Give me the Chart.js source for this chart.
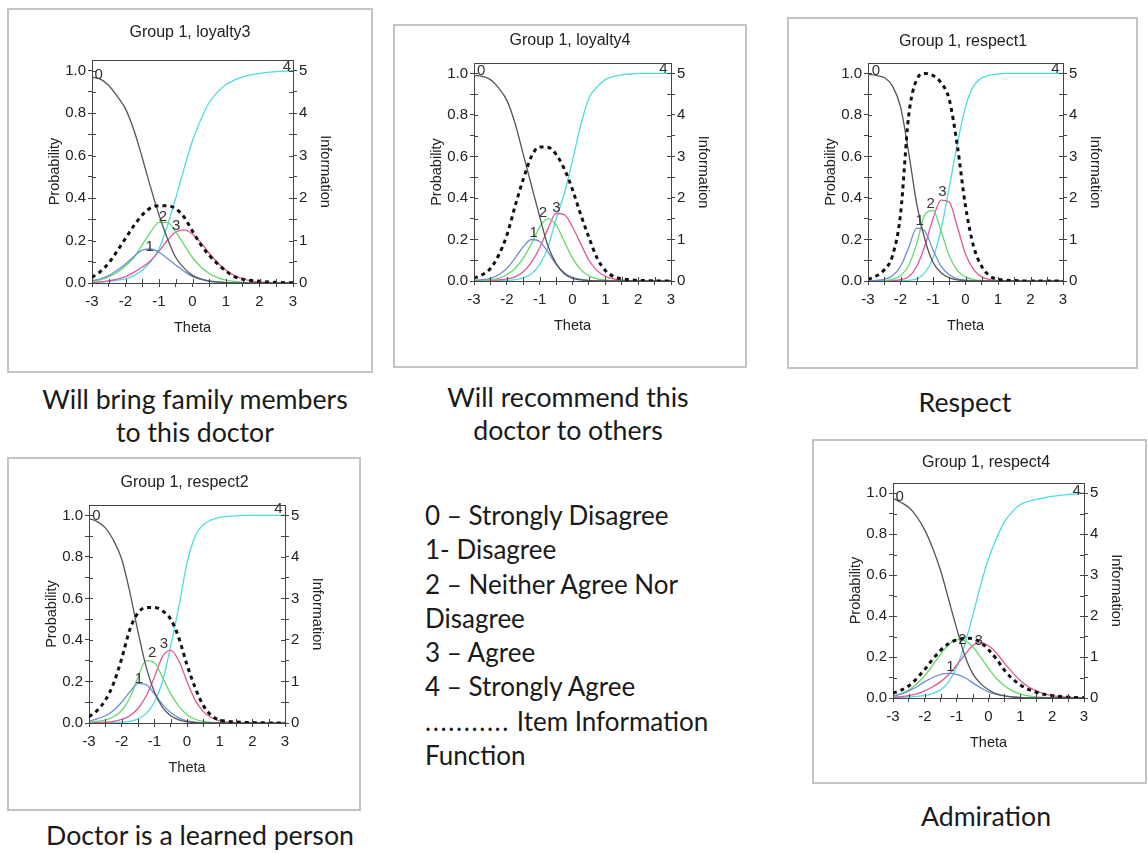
<!DOCTYPE html>
<html>
<head>
<meta charset="utf-8">
<script src="https://cdn.jsdelivr.net/npm/chart.js@4"></script>
<style>
  body { margin: 0; background: #fff; }
  #page { position: relative; width: 1148px; height: 853px; overflow: hidden; font-family: Lato, 'Open Sans', sans-serif; color: #1a1a1a; }
  .box { position: absolute; box-sizing: border-box; border: 2px solid #c4c4c4; background: #fff; }
  .box canvas { position: absolute; left: 0; top: 0; }
  .cap { position: absolute; text-align: center; font-size: 26.7px; line-height: 33px; white-space: nowrap; }
  #key { position: absolute; left: 425px; top: 498px; font-size: 26px; line-height: 34.3px; white-space: nowrap; }
  .dots { letter-spacing: 1.6px; }
</style>
</head>
<body>
<div id="page">
  <div class="cap" style="left:20px; top:383px; width:350px;">Will bring family members<br>to this doctor</div>
  <div class="cap" style="left:393px; top:381px; width:350px;">Will recommend this<br>doctor to others</div>
  <div class="cap" style="left:865px; top:386px; width:200px;">Respect</div>
  <div class="cap" style="left:20px; top:819px; width:360px;">Doctor is a learned person</div>
  <div class="cap" style="left:886px; top:800px; width:200px;">Admiration</div>
  <div id="key">
    0 – Strongly Disagree<br>
    1- Disagree<br>
    2 – Neither Agree Nor<br>
    Disagree<br>
    3 – Agree<br>
    4 – Strongly Agree<br>
    <span class="dots">...........</span> Item Information<br>
    Function
  </div>
</div>
<script>
// theta grid shared by all panels
const theta = [-3, -2.75, -2.5, -2.25, -2, -1.75, -1.5, -1.25, -1, -0.75, -0.5, -0.25, 0,
               0.25, 0.5, 0.75, 1, 1.25, 1.5, 1.75, 2, 2.25, 2.5, 2.75, 3];

// loyalty3
const loyalty3Cat0 = [0.97, 0.96, 0.93, 0.88, 0.82, 0.72, 0.59, 0.45, 0.32, 0.21, 0.12, 0.07, 0.036, 0.02, 0.01, 0.005, 0.002, 0, 0, 0, 0, 0, 0, 0, 0];
const loyalty3Cat1 = [0.01, 0.02, 0.035, 0.06, 0.09, 0.125, 0.155, 0.16, 0.145, 0.115, 0.085, 0.055, 0.03, 0.017, 0.008, 0.004, 0.002, 0, 0, 0, 0, 0, 0, 0, 0];
const loyalty3Cat2 = [0.01, 0.015, 0.03, 0.05, 0.08, 0.12, 0.18, 0.24, 0.285, 0.285, 0.24, 0.18, 0.12, 0.075, 0.045, 0.025, 0.013, 0.007, 0.003, 0, 0, 0, 0, 0, 0];
const loyalty3Cat3 = [0.003, 0.005, 0.01, 0.018, 0.03, 0.05, 0.075, 0.105, 0.15, 0.2, 0.24, 0.25, 0.23, 0.19, 0.14, 0.095, 0.06, 0.035, 0.02, 0.01, 0.005, 0.002, 0, 0, 0];
const loyalty3Cat4 = [0.002, 0.004, 0.008, 0.013, 0.02, 0.035, 0.06, 0.1, 0.16, 0.27, 0.4, 0.54, 0.67, 0.77, 0.85, 0.9, 0.935, 0.955, 0.97, 0.98, 0.987, 0.992, 0.995, 0.998, 1];
const loyalty3Info = [0.13, 0.27, 0.47, 0.75, 1.05, 1.35, 1.6, 1.77, 1.82, 1.82, 1.75, 1.55, 1.22, 0.9, 0.65, 0.45, 0.28, 0.15, 0.09, 0.06, 0.04, 0.025, 0.015, 0.008, 0.003];

// loyalty4
const loyalty4Cat0 = [0.99, 0.985, 0.97, 0.93, 0.87, 0.76, 0.61, 0.46, 0.31, 0.17, 0.085, 0.035, 0.013, 0.005, 0.002, 0, 0, 0, 0, 0, 0, 0, 0, 0, 0];
const loyalty4Cat1 = [0.003, 0.006, 0.013, 0.03, 0.06, 0.11, 0.165, 0.2, 0.19, 0.14, 0.08, 0.04, 0.018, 0.008, 0.003, 0.001, 0, 0, 0, 0, 0, 0, 0, 0, 0];
const loyalty4Cat2 = [0.001, 0.003, 0.006, 0.013, 0.03, 0.06, 0.11, 0.18, 0.26, 0.3, 0.27, 0.19, 0.11, 0.055, 0.025, 0.01, 0.004, 0.001, 0, 0, 0, 0, 0, 0, 0];
const loyalty4Cat3 = [0, 0.001, 0.002, 0.005, 0.01, 0.02, 0.045, 0.09, 0.16, 0.25, 0.325, 0.32, 0.26, 0.18, 0.1, 0.05, 0.022, 0.01, 0.004, 0.001, 0, 0, 0, 0, 0];
const loyalty4Cat4 = [0, 0, 0.001, 0.002, 0.003, 0.007, 0.015, 0.035, 0.08, 0.16, 0.3, 0.42, 0.58, 0.75, 0.88, 0.935, 0.97, 0.985, 0.993, 0.997, 1, 1, 1, 1, 1];
const loyalty4Info = [0.07, 0.15, 0.3, 0.62, 1.1, 1.8, 2.45, 3.0, 3.23, 3.22, 3.05, 2.7, 2.2, 1.6, 1.05, 0.55, 0.25, 0.11, 0.05, 0.03, 0.015, 0.008, 0.004, 0.002, 0];

// respect1
const respect1Cat0 = [0.995, 0.99, 0.98, 0.94, 0.84, 0.62, 0.37, 0.2, 0.09, 0.04, 0.015, 0.005, 0.002, 0, 0, 0, 0, 0, 0, 0, 0, 0, 0, 0, 0];
const respect1Cat1 = [0.001, 0.003, 0.008, 0.025, 0.07, 0.16, 0.255, 0.24, 0.15, 0.07, 0.03, 0.01, 0.004, 0.001, 0, 0, 0, 0, 0, 0, 0, 0, 0, 0, 0];
const respect1Cat2 = [0, 0.001, 0.002, 0.008, 0.025, 0.075, 0.18, 0.32, 0.34, 0.24, 0.12, 0.05, 0.02, 0.007, 0.002, 0, 0, 0, 0, 0, 0, 0, 0, 0, 0];
const respect1Cat3 = [0, 0, 0.001, 0.002, 0.006, 0.02, 0.07, 0.17, 0.3, 0.39, 0.38, 0.26, 0.13, 0.055, 0.02, 0.007, 0.002, 0, 0, 0, 0, 0, 0, 0, 0];
const respect1Cat4 = [0, 0, 0, 0, 0.001, 0.003, 0.01, 0.04, 0.11, 0.25, 0.45, 0.66, 0.84, 0.94, 0.978, 0.992, 0.997, 1, 1, 1, 1, 1, 1, 1, 1];
const respect1Info = [0.04, 0.12, 0.27, 0.6, 1.6, 3.97, 4.85, 5.0, 4.95, 4.77, 4.37, 3.25, 1.8, 0.83, 0.35, 0.12, 0.04, 0.02, 0.01, 0.005, 0, 0, 0, 0, 0];

// respect2
const respect2Cat0 = [0.985, 0.97, 0.94, 0.88, 0.79, 0.63, 0.44, 0.27, 0.15, 0.075, 0.035, 0.015, 0.006, 0.002, 0, 0, 0, 0, 0, 0, 0, 0, 0, 0, 0];
const respect2Cat1 = [0.01, 0.02, 0.035, 0.06, 0.1, 0.15, 0.19, 0.185, 0.14, 0.09, 0.05, 0.025, 0.01, 0.004, 0.001, 0, 0, 0, 0, 0, 0, 0, 0, 0, 0];
const respect2Cat2 = [0.004, 0.008, 0.015, 0.03, 0.06, 0.12, 0.22, 0.3, 0.29, 0.22, 0.14, 0.08, 0.04, 0.018, 0.008, 0.003, 0.001, 0, 0, 0, 0, 0, 0, 0, 0];
const respect2Cat3 = [0.001, 0.002, 0.004, 0.008, 0.017, 0.035, 0.07, 0.13, 0.22, 0.32, 0.35, 0.3, 0.2, 0.11, 0.055, 0.025, 0.01, 0.004, 0.002, 0, 0, 0, 0, 0, 0];
const respect2Cat4 = [0, 0.0005, 0.001, 0.002, 0.004, 0.008, 0.02, 0.045, 0.1, 0.2, 0.37, 0.56, 0.77, 0.9, 0.955, 0.978, 0.99, 0.995, 0.998, 1, 1, 1, 1, 1, 1];
const respect2Info = [0.15, 0.3, 0.55, 0.95, 1.55, 2.25, 2.65, 2.78, 2.78, 2.7, 2.5, 2.05, 1.4, 0.85, 0.42, 0.18, 0.07, 0.04, 0.025, 0.015, 0.01, 0.005, 0.003, 0.001, 0];

// respect4
const respect4Cat0 = [0.975, 0.955, 0.93, 0.885, 0.82, 0.73, 0.62, 0.48, 0.34, 0.21, 0.12, 0.07, 0.04, 0.02, 0.01, 0.005, 0.002, 0, 0, 0, 0, 0, 0, 0, 0];
const respect4Cat1 = [0.01, 0.02, 0.035, 0.055, 0.08, 0.1, 0.115, 0.12, 0.115, 0.1, 0.075, 0.05, 0.03, 0.018, 0.01, 0.005, 0.003, 0.001, 0, 0, 0, 0, 0, 0, 0];
const respect4Cat2 = [0.01, 0.02, 0.04, 0.07, 0.11, 0.16, 0.215, 0.26, 0.285, 0.28, 0.25, 0.2, 0.145, 0.095, 0.06, 0.035, 0.02, 0.01, 0.005, 0.003, 0, 0, 0, 0, 0];
const respect4Cat3 = [0.004, 0.007, 0.012, 0.02, 0.035, 0.055, 0.08, 0.115, 0.16, 0.21, 0.255, 0.27, 0.255, 0.22, 0.17, 0.125, 0.085, 0.055, 0.035, 0.02, 0.012, 0.007, 0.004, 0.002, 0.001];
const respect4Cat4 = [0.002, 0.003, 0.005, 0.008, 0.012, 0.022, 0.04, 0.08, 0.15, 0.26, 0.4, 0.55, 0.68, 0.78, 0.86, 0.91, 0.945, 0.96, 0.97, 0.978, 0.985, 0.99, 0.993, 0.997, 1];
const respect4Info = [0.12, 0.19, 0.3, 0.48, 0.7, 0.95, 1.17, 1.33, 1.42, 1.46, 1.45, 1.36, 1.18, 0.95, 0.68, 0.47, 0.32, 0.21, 0.14, 0.09, 0.06, 0.035, 0.02, 0.01, 0.005];

// category labels sitting on the curves: [text, theta, probability]
const loyalty3Labels = [['0', -2.8, 0.98], ['1', -1.28, 0.17], ['2', -0.88, 0.31], ['3', -0.49, 0.27], ['4', 2.82, 1.02]];
const loyalty4Labels = [['0', -2.78, 1.01], ['1', -1.18, 0.23], ['2', -0.9, 0.33], ['3', -0.49, 0.35], ['4', 2.77, 1.02]];
const respect1Labels = [['0', -2.76, 1.01], ['1', -1.41, 0.29], ['2', -1.07, 0.37], ['3', -0.71, 0.43], ['4', 2.77, 1.02]];
const respect2Labels = [['0', -2.77, 1.0], ['1', -1.47, 0.215], ['2', -1.07, 0.34], ['3', -0.71, 0.38], ['4', 2.8, 1.03]];
const respect4Labels = [['0', -2.79, 0.98], ['1', -1.2, 0.15], ['2', -0.82, 0.285], ['3', -0.31, 0.28], ['4', 2.77, 1.01]];

const catColors = ['#555555', '#6a8fd6', '#66d96a', '#e0589a', '#4fdcdc'];
const FONT = "'Liberation Sans', Arial, sans-serif";
const AXIS = '#444';

// box = outer frame on the page, plot = where the axes frame should land, title = title centre
const panels = [
  { name: 'loyalty3', box: [7, 8, 366, 365], plot: [92, 60, 293, 283], title: 33, cats: [loyalty3Cat0, loyalty3Cat1, loyalty3Cat2, loyalty3Cat3, loyalty3Cat4], info: loyalty3Info, labels: loyalty3Labels },
  { name: 'loyalty4', box: [393, 24, 354, 344], plot: [474, 63, 671, 281], title: 41, cats: [loyalty4Cat0, loyalty4Cat1, loyalty4Cat2, loyalty4Cat3, loyalty4Cat4], info: loyalty4Info, labels: loyalty4Labels },
  { name: 'respect1', box: [787, 17, 351, 352], plot: [868, 63, 1063, 281], title: 42, cats: [respect1Cat0, respect1Cat1, respect1Cat2, respect1Cat3, respect1Cat4], info: respect1Info, labels: respect1Labels },
  { name: 'respect2', box: [7, 457, 354, 354], plot: [89, 505, 285, 723], title: 483, cats: [respect2Cat0, respect2Cat1, respect2Cat2, respect2Cat3, respect2Cat4], info: respect2Info, labels: respect2Labels },
  { name: 'respect4', box: [812, 439, 335, 345], plot: [893, 483, 1084, 698], title: 463, cats: [respect4Cat0, respect4Cat1, respect4Cat2, respect4Cat3, respect4Cat4], info: respect4Info, labels: respect4Labels }
];

const LEFT_W = 46, RIGHT_W = 41, BOTTOM_H = 54, TITLE_LH = 19.2;

// curve numbers plus the short inner half of each tick mark (the axes ticks cross the frame)
const curveLabels = {
    id: 'curveLabels',
    afterDatasetsDraw(chart, args, opts) {
        const ctx = chart.ctx;
        const { x: xs, y: ys, y2 } = chart.scales;
        const area = chart.chartArea;
        ctx.save();
        ctx.strokeStyle = AXIS;
        ctx.lineWidth = 1;
        ctx.beginPath();
        xs.ticks.forEach(t => {
            const px = Math.round(xs.getPixelForValue(t.value)) + 0.5;
            ctx.moveTo(px, area.bottom);
            ctx.lineTo(px, area.bottom - 4);
        });
        ys.ticks.forEach(t => {
            const py = Math.round(ys.getPixelForValue(t.value)) + 0.5;
            ctx.moveTo(area.left, py);
            ctx.lineTo(area.left + 4, py);
        });
        y2.ticks.forEach(t => {
            const py = Math.round(y2.getPixelForValue(t.value)) + 0.5;
            ctx.moveTo(area.right, py);
            ctx.lineTo(area.right - 4, py);
        });
        ctx.stroke();

        ctx.font = '15px ' + FONT;
        ctx.fillStyle = '#333';
        ctx.textAlign = 'center';
        ctx.textBaseline = 'middle';
        opts.labels.forEach(([t, vx, vy]) => {
            ctx.fillText(t, xs.getPixelForValue(vx), ys.getPixelForValue(vy));
        });
        ctx.restore();
    }
};

const toPoints = arr => theta.map((x, i) => ({ x, y: arr[i] }));

panels.forEach(p => {
    const [bx, by, bw, bh] = p.box;
    const [pl, pt, pr, pb] = p.plot;
    const div = document.createElement('div');
    div.className = 'box';
    Object.assign(div.style, { left: bx + 'px', top: by + 'px', width: bw + 'px', height: bh + 'px' });
    const canvas = document.createElement('canvas');
    canvas.width = bw - 4;
    canvas.height = bh - 4;
    canvas.style.width = (bw - 4) + 'px';
    canvas.style.height = (bh - 4) + 'px';
    div.appendChild(canvas);
    document.getElementById('page').appendChild(div);

    const innerL = bx + 2, innerT = by + 2, innerR = bx + bw - 2, innerB = by + bh - 2;
    const padTop = p.title - innerT - TITLE_LH / 2;
    const padding = {
        left: pl - innerL - LEFT_W,
        right: innerR - pr - RIGHT_W,
        top: padTop,
        bottom: innerB - pb - BOTTOM_H
    };
    const titleGap = pt - innerT - padTop - TITLE_LH;

    const datasets = [{
        data: toPoints(p.info),
        yAxisID: 'y2',
        borderColor: '#111',
        borderWidth: 3,
        borderDash: [4, 4]
    }];
    p.cats.forEach((arr, i) => {
        datasets.push({ data: toPoints(arr), yAxisID: 'y', borderColor: catColors[i], borderWidth: 1.3 });
    });
    datasets.forEach(d => {
        d.xAxisID = 'x';
        d.pointRadius = 0;
        d.fill = false;
        d.cubicInterpolationMode = 'monotone';
    });

    const tickFont = { family: FONT, size: 15 };
    const titleFont = { family: FONT, size: 14.5 };

    new Chart(canvas, {
        type: 'line',
        data: { datasets },
        plugins: [curveLabels],
        options: {
            responsive: false,
            animation: false,
            layout: { padding },
            plugins: {
                legend: { display: false },
                tooltip: { enabled: false },
                title: {
                    display: true,
                    text: 'Group 1, ' + p.name,
                    color: '#222',
                    font: { family: FONT, size: 16, weight: 'normal', lineHeight: 1.2 },
                    padding: { top: 0, bottom: titleGap }
                },
                curveLabels: { labels: p.labels }
            },
            scales: {
                x: {
                    type: 'linear', position: 'bottom', min: -3, max: 3,
                    ticks: {
                        stepSize: 0.5, autoSkip: false, maxRotation: 0, padding: 6,
                        color: '#222', font: tickFont,
                        callback: v => Number.isInteger(v) ? String(v) : ''
                    },
                    grid: { drawOnChartArea: false, tickLength: 4, color: AXIS },
                    border: { color: AXIS, width: 1 },
                    title: { display: true, text: 'Theta', color: '#222', font: titleFont, padding: 0 },
                    afterFit: s => { s.height = BOTTOM_H; }
                },
                xTop: {
                    type: 'linear', position: 'top', min: -3, max: 3,
                    ticks: { display: false },
                    grid: { display: false, drawTicks: false },
                    border: { display: true, color: AXIS, width: 1 },
                    afterFit: s => { s.height = 0; }
                },
                y: {
                    type: 'linear', position: 'left', min: 0, max: 1.05,
                    ticks: {
                        stepSize: 0.1, includeBounds: false, autoSkip: false, padding: 2,
                        color: '#222', font: tickFont,
                        callback: v => Math.round(v * 10) % 2 === 0 ? v.toFixed(1) : ''
                    },
                    grid: { drawOnChartArea: false, tickLength: 4, color: AXIS },
                    border: { color: AXIS, width: 1 },
                    title: { display: true, text: 'Probability', color: '#222', font: titleFont, padding: 0 },
                    afterFit: s => { s.width = LEFT_W; }
                },
                y2: {
                    type: 'linear', position: 'right', min: 0, max: 5.25,
                    ticks: {
                        stepSize: 0.5, includeBounds: false, autoSkip: false, padding: 2,
                        color: '#222', font: tickFont,
                        callback: v => Number.isInteger(v) ? String(v) : ''
                    },
                    grid: { drawOnChartArea: false, tickLength: 4, color: AXIS },
                    border: { color: AXIS, width: 1 },
                    title: { display: true, text: 'Information', color: '#222', font: titleFont, padding: 0 },
                    afterFit: s => { s.width = RIGHT_W; }
                }
            }
        }
    });
});
</script>
</body>
</html>
